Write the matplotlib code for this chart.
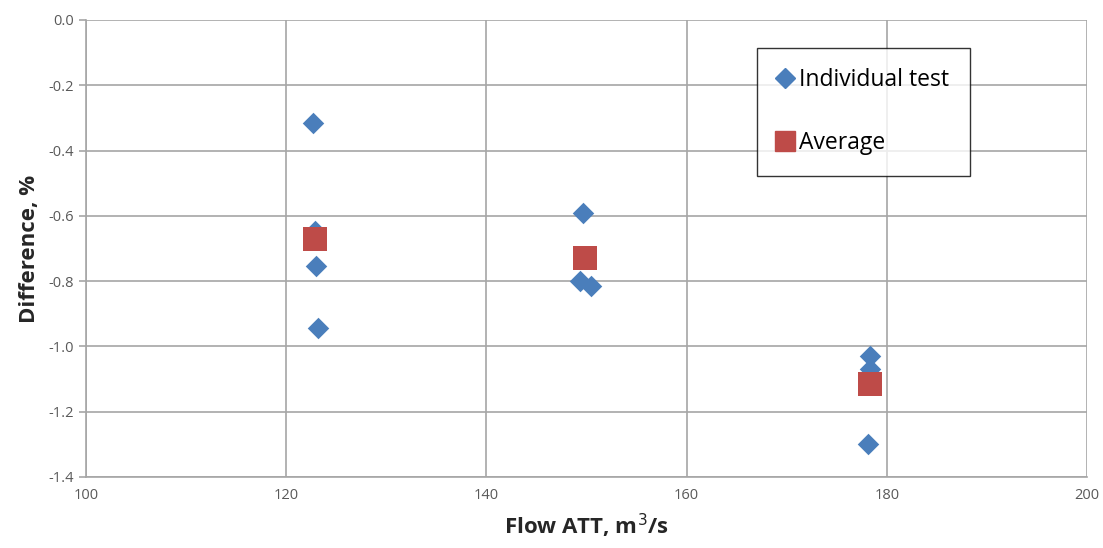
import matplotlib
matplotlib.use("Agg")
import matplotlib.pyplot as plt
from matplotlib.lines import Line2D

# individual test points
test_flow = [122.7, 122.9, 123.0, 123.2, 149.65, 149.35, 150.45, 178.3, 178.35, 178.1]
test_diff = [-0.315, -0.645, -0.755, -0.945, -0.59, -0.80, -0.815, -1.03, -1.07, -1.30]

# averages per flow
avg_flow = [122.9, 149.8, 178.3]
avg_diff = [-0.67, -0.73, -1.115]

xticks = [100, 120, 140, 160, 180, 200]
yticks = [0.0, -0.2, -0.4, -0.6, -0.8, -1.0, -1.2, -1.4]

plt.rcParams['font.family'] = ['Open Sans', 'DejaVu Sans']

fig = plt.figure(figsize=(11.03, 5.48), dpi=100)
ax = fig.add_axes([0.078, 0.1296, 0.9075, 0.834])

blue = '#4a7ebb'
red = '#be4b48'
grid = '#a6a6a6'

ax.scatter(test_flow, test_diff, marker='D', s=120, color=blue, zorder=3, linewidths=0)
ax.scatter(avg_flow, avg_diff, marker='s', s=280, color=red, zorder=4, linewidths=0)

ax.set_xlim(100, 200)
ax.set_ylim(-1.4, 0.0)
ax.set_xticks(xticks)
ax.set_yticks(yticks)
ax.set_yticklabels(['%.1f' % v for v in yticks])
ax.grid(True, color=grid, linewidth=1.2)
ax.set_axisbelow(True)
for s in ['top', 'right']:
    ax.spines[s].set_visible(False)
for s in ['left', 'bottom']:
    ax.spines[s].set_color(grid)
    ax.spines[s].set_linewidth(1.2)
ax.tick_params(axis='y', colors=grid, length=5, width=1.2, labelcolor='#595959', labelsize=10.5)
ax.tick_params(axis='x', length=0, labelcolor='#595959', labelsize=10.5, pad=8)

ax.set_xlabel('Flow ATT, m$^3$/s', fontsize=16, fontweight='bold', color='#262626', labelpad=6)
ax.set_ylabel('Difference, %', fontsize=16, fontweight='bold', color='#262626', labelpad=6)

handles = [
    Line2D([], [], marker='D', linestyle='', color=blue, markersize=10),
    Line2D([], [], marker='s', linestyle='', color=red, markersize=14),
]
leg = ax.legend(handles, ['Individual test', 'Average'], loc='upper left',
                bbox_to_anchor=(0.670, 0.939), borderaxespad=0, frameon=True,
                fancybox=False, edgecolor='black', fontsize=16.5, labelspacing=1.7,
                handletextpad=0.25, borderpad=0.9, handlelength=0.7)
leg.get_frame().set_linewidth(1.0)

fig.savefig('out.png', dpi=100)
